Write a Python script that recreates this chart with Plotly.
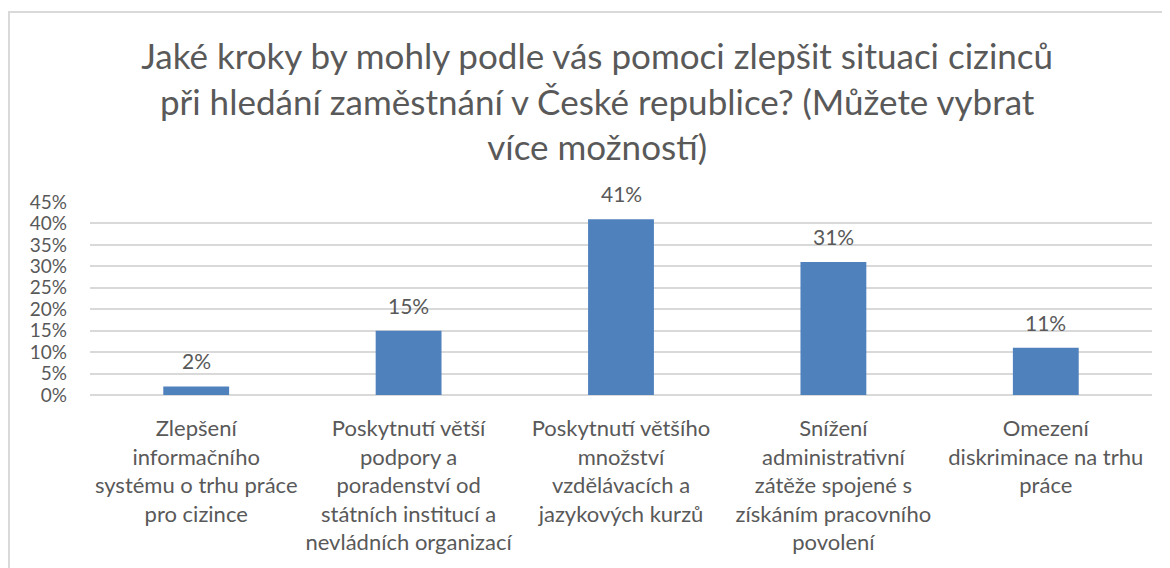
import plotly.graph_objects as go

TEXT_GREY = "#595959"
BAR_BLUE = "#4F81BD"
GRID_GREY = "#D9D9D9"

categories = [
    "Zlepšení<br>informačního<br>systému o trhu práce<br>pro cizince",
    "Poskytnutí větší<br>podpory a<br>poradenství od<br>státních institucí a<br>nevládních organizací",
    "Poskytnutí většího<br>množství<br>vzdělávacích a<br>jazykových kurzů",
    "Snížení<br>administrativní<br>zátěže spojené s<br>získáním pracovního<br>povolení",
    "Omezení<br>diskriminace na trhu<br>práce",
]
shares = [0.02, 0.15, 0.41, 0.31, 0.11]

title_text = (
    "Jaké kroky by mohly podle vás pomoci zlepšit situaci cizinců<br>"
    "při hledání zaměstnání v České republice? (Můžete vybrat<br>"
    "více možností)"
)

fig = go.Figure(
    go.Bar(
        x=categories,
        y=shares,
        marker=dict(color=BAR_BLUE, line=dict(width=0)),
        hovertemplate="%{y:.0%}<extra></extra>",
    )
)

# data labels sit a little above each bar, like the Excel original
for cat, val in zip(categories, shares):
    fig.add_annotation(
        x=cat, y=val, text=f"{val:.0%}", showarrow=False,
        yanchor="bottom", yshift=11,
        font=dict(size=21, color=TEXT_GREY),
    )

# light frame around the chart area
fig.add_shape(
    type="rect", xref="paper", yref="paper",
    x0=-0.0763, x1=1.2, y0=-1.2, y1=1.984,
    line=dict(color=GRID_GREY, width=2),
    fillcolor="rgba(0,0,0,0)", layer="below",
)

# the page body adds an 8px margin, so the figure is 8px smaller than the window
fig.update_layout(
    width=1162,
    height=560,
    margin=dict(l=82, r=18, t=194, b=173),
    plot_bgcolor="white",
    paper_bgcolor="white",
    font=dict(family="Lato", size=20, color=TEXT_GREY),
    title=dict(
        text=title_text,
        x=0.507, xanchor="center",
        y=0.891, yanchor="middle",
        font=dict(family="Lato", size=35, color=TEXT_GREY),
    ),
    bargap=0.69,
    showlegend=False,
)
fig.update_xaxes(
    showgrid=False,
    showline=False,
    ticks="",
    ticklabelstandoff=18,
    tickfont=dict(size=22, color=TEXT_GREY),
    tickangle=0,
)
fig.update_yaxes(
    range=[0, 0.45],
    dtick=0.05,
    tickformat=".0%",
    showgrid=True,
    gridcolor=GRID_GREY,
    gridwidth=1.5,
    zeroline=True,
    zerolinecolor=GRID_GREY,
    zerolinewidth=1.5,
    ticklabelstandoff=22,
    tickfont=dict(size=19, color=TEXT_GREY),
)

fig.write_html("out.html")
